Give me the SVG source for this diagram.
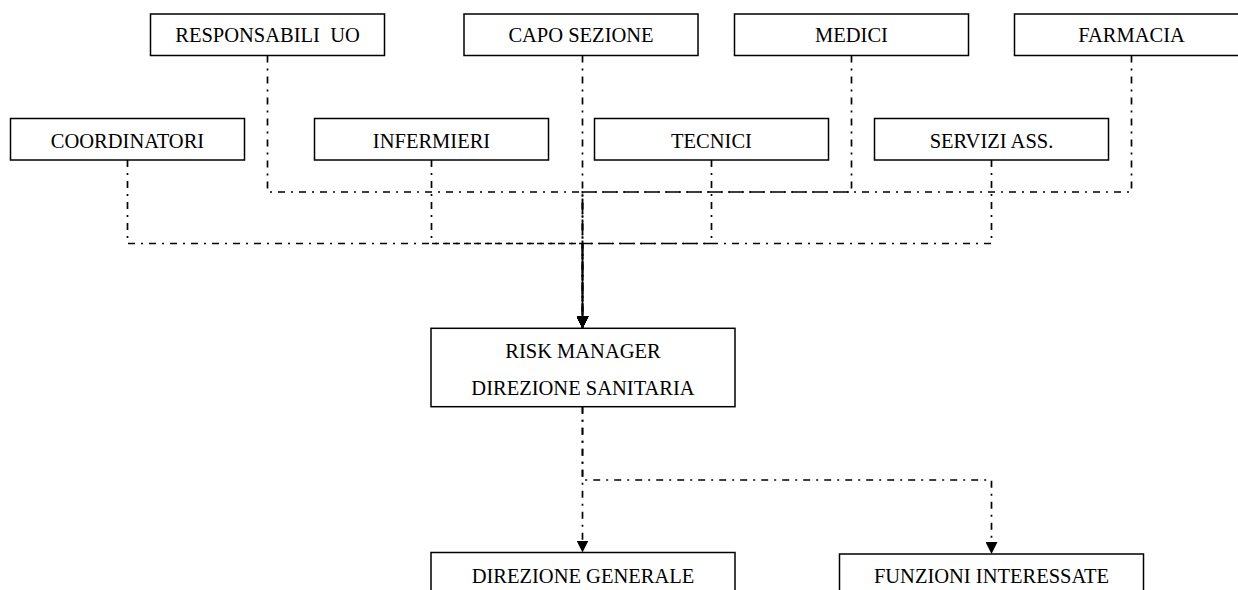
<svg xmlns="http://www.w3.org/2000/svg" width="1238" height="590" viewBox="0 0 1238 590">
<defs>
<style>
.box{fill:#fff;stroke:#000;stroke-width:1.5}
.lbl{font-family:"Liberation Serif","Times New Roman",serif;font-size:20.5px;fill:#000;text-anchor:middle}
.conn{fill:none;stroke:#000;stroke-width:1.7;stroke-dasharray:7 6 2 6;stroke-linecap:butt}
</style>
<marker id="arrow" markerUnits="userSpaceOnUse" viewBox="0 0 12 12" refX="12" refY="6" markerWidth="12" markerHeight="12" orient="auto">
<path d="M0,0 L12,6 L0,12 z" fill="#000"/>
</marker>
</defs>
<rect width="1238" height="590" fill="#fff"/>
<g id="connectors">
<path class="conn" d="M267.5,55.5 V192 H582.5 V328.3" marker-end="url(#arrow)"/>
<path class="conn" d="M582.5,55.5 V328.3" marker-end="url(#arrow)"/>
<path class="conn" d="M851.5,55.5 V192 H582.5 V328.3" marker-end="url(#arrow)"/>
<path class="conn" d="M1131.5,55.5 V192 H582.5 V328.3" marker-end="url(#arrow)"/>
<path class="conn" d="M127.5,160 V243.5 H582.5 V328.3" marker-end="url(#arrow)"/>
<path class="conn" d="M431.5,160 V243.5 H582.5 V328.3" marker-end="url(#arrow)"/>
<path class="conn" d="M711.5,160 V243.5 H582.5 V328.3" marker-end="url(#arrow)"/>
<path class="conn" d="M991.5,160 V243.5 H582.5 V328.3" marker-end="url(#arrow)"/>
<path class="conn" d="M582.5,406.7 V552.5" marker-end="url(#arrow)"/>
<path class="conn" d="M582.5,406.7 V480 H991.5 V554" marker-end="url(#arrow)"/>
</g>
<g id="node-responsabili-uo">
<rect class="box" x="150.5" y="14" width="234" height="41.5"/>
<text class="lbl" x="267.5" y="42.3" xml:space="preserve">RESPONSABILI  UO</text>
</g>
<g id="node-capo-sezione">
<rect class="box" x="464" y="14" width="234" height="41.5"/>
<text class="lbl" x="581" y="42.3">CAPO SEZIONE</text>
</g>
<g id="node-medici">
<rect class="box" x="734.5" y="14" width="234" height="41.5"/>
<text class="lbl" x="851.5" y="42.3">MEDICI</text>
</g>
<g id="node-farmacia">
<rect class="box" x="1014.5" y="14" width="234" height="41.5"/>
<text class="lbl" x="1131.5" y="42.3">FARMACIA</text>
</g>
<g id="node-coordinatori">
<rect class="box" x="10.5" y="118.5" width="234" height="41.5"/>
<text class="lbl" x="127.5" y="148">COORDINATORI</text>
</g>
<g id="node-infermieri">
<rect class="box" x="314.5" y="118.5" width="234" height="41.5"/>
<text class="lbl" x="431.5" y="148">INFERMIERI</text>
</g>
<g id="node-tecnici">
<rect class="box" x="594.5" y="118.5" width="234" height="41.5"/>
<text class="lbl" x="711.5" y="148">TECNICI</text>
</g>
<g id="node-servizi-ass">
<rect class="box" x="874.5" y="118.5" width="234" height="41.5"/>
<text class="lbl" x="991.5" y="148">SERVIZI ASS.</text>
</g>
<g id="node-risk-manager">
<rect class="box" x="431" y="328.3" width="304" height="78.4"/>
<text class="lbl" x="583" y="358.3">RISK MANAGER</text>
<text class="lbl" x="583" y="395">DIREZIONE SANITARIA</text>
</g>
<g id="node-direzione-generale">
<rect class="box" x="431" y="552.5" width="304" height="78"/>
<text class="lbl" x="583" y="582.7">DIREZIONE GENERALE</text>
</g>
<g id="node-funzioni-interessate">
<rect class="box" x="839.5" y="554" width="304" height="78"/>
<text class="lbl" x="991.5" y="583.3">FUNZIONI INTERESSATE</text>
</g>
</svg>
